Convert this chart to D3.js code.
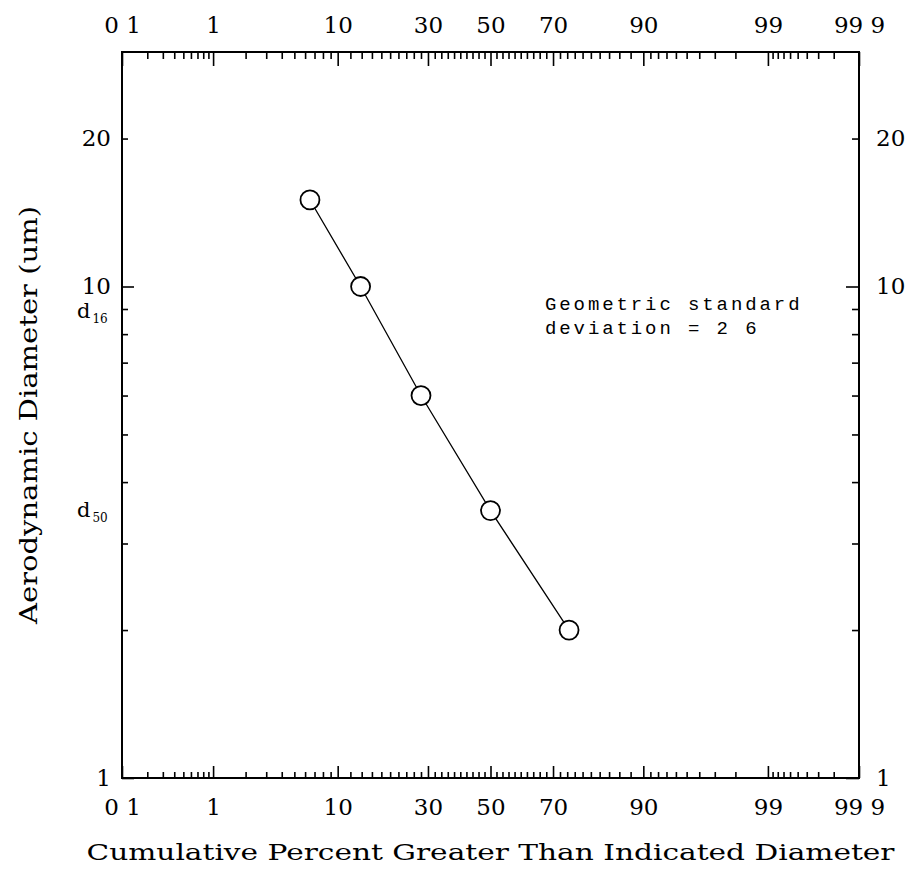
<!DOCTYPE html>
<html>
<head>
<meta charset="utf-8">
<script src="https://cdn.jsdelivr.net/npm/d3@7"></script>
<style>
  html, body { margin: 0; padding: 0; background: #fff; }
  svg { display: block; }
</style>
</head>
<body>
<div id="chart"></div>
<script>
(function () {
  'use strict';

  // measured points: cumulative % greater than size, aerodynamic diameter (um)
  var percentGreater = [6.5, 13.8, 28, 50, 74.5];
  var diameterUm = [15, 10, 6, 3.5, 2];

  // probability axis (top and bottom)
  var probTicks = [0.1, 1, 10, 30, 50, 70, 90, 99, 99.9];
  var probTickLabels = ['0 1', '1', '10', '30', '50', '70', '90', '99', '99 9'];
  var probMinor = [].concat(
    d3.range(0.2, 0.95, 0.1),
    d3.range(2, 10, 1),
    d3.range(12, 90, 2).filter(function (p) { return p !== 30 && p !== 50 && p !== 70; }),
    d3.range(91, 99, 1),
    d3.range(99.1, 99.85, 0.1)
  );

  // diameter axis (left and right)
  var diamTicks = [1, 10, 20];
  var diamMinor = [2, 3, 4, 5, 6, 7, 8, 9];

  // d16 / d50 markers on the left axis
  var refSubs = ['16', '50'];
  var refDiam = [9.0, 3.55];

  var noteLines = ['Geometric standard', 'deviation = 2 6'];
  var xTitle = 'Cumulative Percent Greater Than Indicated Diameter';
  var yTitle = 'Aerodynamic Diameter (um)';

  var W = 912, H = 882;
  var L = 122, R = 859, T = 52, B = 778;
  var SERIF = '"DejaVu Serif", "Liberation Serif", serif';

  // inverse normal CDF (Acklam)
  function probit(p) {
    var a = [-3.969683028665376e+01, 2.209460984245205e+02, -2.759285104469687e+02, 1.383577518672690e+02, -3.066479806614716e+01, 2.506628277459239e+00];
    var b = [-5.447609879822406e+01, 1.615858368580409e+02, -1.556989798598866e+02, 6.680131188771972e+01, -1.328068155288572e+01];
    var c = [-7.784894002430293e-03, -3.223964580411365e-01, -2.400758277161838e+00, -2.549732539343734e+00, 4.374664141464968e+00, 2.938163982698783e+00];
    var d = [7.784695709041462e-03, 3.224671290700398e-01, 2.445134137142996e+00, 3.754408661907416e+00];
    var pl = 0.02425, q, r;
    if (p < pl) {
      q = Math.sqrt(-2 * Math.log(p));
      return (((((c[0] * q + c[1]) * q + c[2]) * q + c[3]) * q + c[4]) * q + c[5]) /
        ((((d[0] * q + d[1]) * q + d[2]) * q + d[3]) * q + 1);
    }
    if (p <= 1 - pl) {
      q = p - 0.5; r = q * q;
      return (((((a[0] * r + a[1]) * r + a[2]) * r + a[3]) * r + a[4]) * r + a[5]) * q /
        (((((b[0] * r + b[1]) * r + b[2]) * r + b[3]) * r + b[4]) * r + 1);
    }
    q = Math.sqrt(-2 * Math.log(1 - p));
    return -(((((c[0] * q + c[1]) * q + c[2]) * q + c[3]) * q + c[4]) * q + c[5]) /
      ((((d[0] * q + d[1]) * q + d[2]) * q + d[3]) * q + 1);
  }
  function z(pct) { return probit(pct / 100); }

  var zScale = d3.scaleLinear().domain([z(0.1), z(99.9)]).range([L, R]);
  var y = d3.scaleLog().domain([1, 30]).range([B, T]);
  function x(pct) { return zScale(z(pct)); }

  var svg = d3.select('#chart').append('svg')
    .attr('width', W).attr('height', H)
    .attr('viewBox', '0 0 ' + W + ' ' + H);

  function styleAxis(g) {
    g.select('.domain').remove();
    g.selectAll('line').attr('stroke', '#000').attr('stroke-width', 1.6);
    g.selectAll('text').attr('fill', '#000').attr('font-family', SERIF).attr('font-size', 23);
  }

  function labelFmt(d, i) { return probTickLabels[i]; }

  // top probability axis
  svg.append('g').attr('transform', 'translate(0,' + T + ')')
    .call(d3.axisTop(zScale).tickValues(probMinor.map(z)).tickSize(-7).tickFormat(''))
    .call(styleAxis);
  svg.append('g').attr('transform', 'translate(0,' + T + ')')
    .call(d3.axisTop(zScale).tickValues(probTicks.map(z)).tickSize(-14).tickPadding(19).tickFormat(labelFmt))
    .call(styleAxis);

  // bottom probability axis
  svg.append('g').attr('transform', 'translate(0,' + B + ')')
    .call(d3.axisBottom(zScale).tickValues(probMinor.map(z)).tickSize(-6).tickFormat(''))
    .call(styleAxis);
  svg.append('g').attr('transform', 'translate(0,' + B + ')')
    .call(d3.axisBottom(zScale).tickValues(probTicks.map(z)).tickSize(-12).tickPadding(21).tickFormat(labelFmt))
    .call(styleAxis);

  // left diameter axis
  svg.append('g').attr('transform', 'translate(' + L + ',0)')
    .call(d3.axisLeft(y).tickValues(diamMinor.concat([20])).tickSize(-6).tickFormat(''))
    .call(styleAxis);
  svg.append('g').attr('transform', 'translate(' + L + ',0)')
    .call(d3.axisLeft(y).tickValues([1, 10]).tickSize(-12).tickFormat(''))
    .call(styleAxis);
  svg.append('g').attr('transform', 'translate(' + L + ',0)')
    .call(d3.axisLeft(y).tickValues(diamTicks).tickSize(0).tickPadding(11).tickFormat(d3.format('d')))
    .call(styleAxis);

  // right diameter axis
  svg.append('g').attr('transform', 'translate(' + R + ',0)')
    .call(d3.axisRight(y).tickValues(diamMinor.concat([20])).tickSize(-7).tickFormat(''))
    .call(styleAxis);
  svg.append('g').attr('transform', 'translate(' + R + ',0)')
    .call(d3.axisRight(y).tickValues([1, 10]).tickSize(-13).tickFormat(''))
    .call(styleAxis);
  svg.append('g').attr('transform', 'translate(' + R + ',0)')
    .call(d3.axisRight(y).tickValues(diamTicks).tickSize(0).tickPadding(17).tickFormat(d3.format('d')))
    .call(styleAxis);

  // frame
  svg.append('rect')
    .attr('x', L).attr('y', T)
    .attr('width', R - L).attr('height', B - T)
    .attr('fill', 'none').attr('stroke', '#000').attr('stroke-width', 2);

  // d16, d50 labels
  var refs = svg.append('g').attr('font-family', SERIF).attr('fill', '#000');
  refSubs.forEach(function (s, i) {
    var t = refs.append('text')
      .attr('x', 77).attr('y', y(refDiam[i]) + 9)
      .attr('font-size', 21);
    t.append('tspan').text('d');
    t.append('tspan').attr('font-size', 12).attr('dy', 5).attr('dx', 2).text(s);
  });

  // data line and markers
  var pts = percentGreater.map(function (p, i) { return [p, diameterUm[i]]; });
  svg.append('path')
    .datum(pts)
    .attr('fill', 'none').attr('stroke', '#000').attr('stroke-width', 1.3)
    .attr('d', d3.line()
      .x(function (d) { return x(d[0]); })
      .y(function (d) { return y(d[1]); }));

  svg.append('g').selectAll('circle')
    .data(pts)
    .enter().append('circle')
    .attr('cx', function (d) { return x(d[0]); })
    .attr('cy', function (d) { return y(d[1]); })
    .attr('r', 9.5)
    .attr('fill', '#fff').attr('stroke', '#000').attr('stroke-width', 1.8);

  // note
  svg.append('g')
    .attr('font-family', '"Liberation Mono", "DejaVu Sans Mono", monospace')
    .attr('font-size', 19).attr('letter-spacing', 2.9).attr('fill', '#000')
    .selectAll('text').data(noteLines).enter().append('text')
    .attr('x', 545)
    .attr('y', function (d, i) { return 310 + i * 24; })
    .text(function (d) { return d; });

  // axis titles
  svg.append('text')
    .attr('x', (L + R) / 2).attr('y', 860)
    .attr('text-anchor', 'middle')
    .attr('font-family', SERIF).attr('font-size', 23).attr('fill', '#000')
    .attr('textLength', 808).attr('lengthAdjust', 'spacingAndGlyphs')
    .text(xTitle);

  svg.append('text')
    .attr('transform', 'translate(37,' + (T + B) / 2 + ') rotate(-90)')
    .attr('text-anchor', 'middle')
    .attr('font-family', SERIF).attr('font-size', 24).attr('fill', '#000')
    .attr('textLength', 418).attr('lengthAdjust', 'spacingAndGlyphs')
    .text(yTitle);
})();
</script>
</body>
</html>
